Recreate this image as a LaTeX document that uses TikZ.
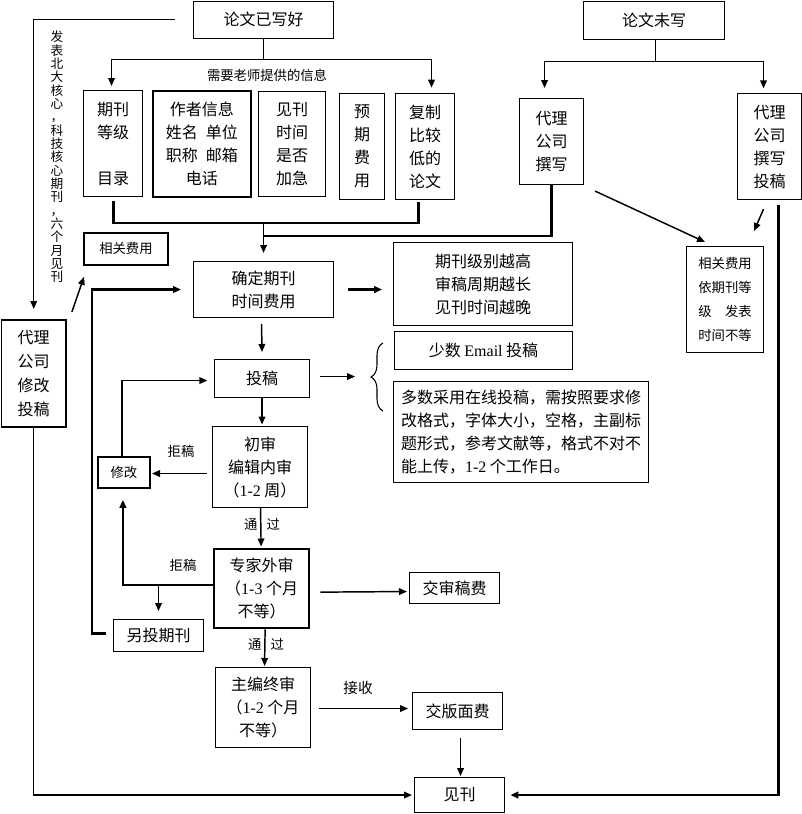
\documentclass[tikz,border=0pt]{standalone}
\usepackage{fontspec}
\setmainfont{Noto Sans CJK SC}
\newfontfamily\latfont{Liberation Serif}
\newcommand{\latn}[1]{{\latfont #1}}
\usetikzlibrary{arrows.meta,calc,decorations.pathreplacing}
\begin{document}
\begin{tikzpicture}[x=0.75pt,y=-0.75pt,
  sz/.style 2 args={minimum width=#1*0.75pt, minimum height=#2*0.75pt},
  box/.style={draw, line width=0.8pt, inner sep=0pt, anchor=north west, align=center,
              font=\fontsize{12}{17.25}\selectfont},
  sbox/.style={box, font=\fontsize{10}{18}\selectfont},
  thickbox/.style={line width=1.4pt},
  ln/.style={line width=1.1pt},
  thk/.style={line width=1.6pt},
  thn/.style={line width=0.8pt},
  tip/.style={-{Triangle[length=6pt,width=5pt]}},
  lbl/.style={inner sep=0pt, font=\fontsize{10}{12}\selectfont},
]
\useasboundingbox (0,0) rectangle (802,814);

% ---------- nodes ----------
\node[box, sz={140}{37}] (A) at (193,0.6) {论文已写好};
\node[box, sz={141}{38}] (B) at (583,0.6) {论文未写};

\node[box, sz={59}{106}] (C1) at (83,90) {期刊\\等级\\[17.25pt]目录};
\node[box, thickbox, sz={98}{106}] (C2) at (152,90) {作者信息\\姓名\hspace{0.5em}单位\\职称\hspace{0.5em}邮箱\\电话};
\node[box, sz={67}{105}] (C3) at (258,91) {见刊\\时间\\是否\\加急};
\node[box, sz={45}{106}] (C4) at (339,93) {预\\期\\费\\用};
\node[box, sz={59}{106}] (C5) at (395,93) {复制\\比较\\低的\\论文};

\node[box, sz={64}{86}] (D1) at (519,98) {代理\\公司\\撰写};
\node[box, sz={64}{106}] (D2) at (737,93) {代理\\公司\\撰写\\投稿};

\node[sbox, sz={77}{106}] (E) at (686,246) {相关费用\\依期刊等\\级\hspace{1em}发表\\时间不等};
\node[sbox, thickbox, sz={84}{32}] (F) at (83,232) {相关费用};
\node[box, thickbox, sz={64.4}{107}, font=\fontsize{12}{18}\selectfont] (G) at (0.6,319) {代理\\公司\\修改\\投稿};

\node[box, sz={140}{56}] (H) at (193,261) {确定期刊\\时间费用};
\node[box, sz={179}{83}] (I) at (393,242) {期刊级别越高\\审稿周期越长\\见刊时间越晚};
\node[box, sz={178}{38}] (J) at (394,331) {少数 \latn{Email} 投稿};
\node[box, sz={255}{101}, align=left] (K) at (393,381) {多数采用在线投稿，需按照要求修\\改格式，字体大小，空格，主副标\\题形式，参考文献等，格式不对不\\能上传，\latn{1-2} 个工作日。};

\node[box, sz={95}{38}] (L) at (214,359) {投稿};
\node[box, sz={95}{81}] (M) at (212,426) {初审\\编辑内审\\（\latn{1-2} 周）};
\node[sbox, thickbox, sz={52}{31}] (N) at (97,456) {修改};
\node[box, sz={95}{79}, line width=1.7pt] (O) at (213,548) {专家外审\\（\latn{1-3} 个月\\不等）};
\node[box, sz={90}{32}] (P) at (113,619) {另投期刊};
\node[box, sz={90}{31}] (Q) at (409,572) {交审稿费};
\node[box, sz={95}{80}] (R) at (215,667) {主编终审\\（\latn{1-2} 个月\\不等）};
\node[box, sz={90}{37}] (S) at (412,692) {交版面费};
\node[box, sz={90}{35}] (T) at (414,777) {见刊};

% ---------- labels ----------
\node[lbl] (lab1) at (267,75) {需要老师提供的信息};
\node[lbl] (lab2) at (181,451) {拒稿};
\node[lbl] (lab3) at (183,565) {拒稿};
\node[lbl] (lab4) at (262,524) {通\hspace{0.7em}过};
\node[lbl] (lab5) at (266,644) {通\hspace{0.7em}过};
\node[lbl, font=\fontsize{11}{12}\selectfont] (lab6) at (358,688) {接收};
\node[inner sep=0pt, align=center, font=\fontsize{9.5}{10}\selectfont] (vt) at (57,157)
  {发\\表\\北\\大\\核\\心\\，\\科\\技\\核\\心\\期\\刊\\，\\六\\个\\月\\见\\刊};

% ---------- connectors: top left ----------
\coordinate (jA) at ($(A.south)+(0,21)$);
\draw[ln] (A.south) -- (jA);
\draw[ln,tip,shorten >=3pt] (jA) -| ($(C1.north)+(-1.5,0)$);
\draw[ln,tip,shorten >=4pt] (jA) -| ($(C5.north)+(6.5,0)$);

\draw[thk] ($(C1.south)+(0.5,4)$) |- ($(C5.south)+(-6.5,23)$) -- ($(C5.south)+(-6.5,2)$);
\draw[ln,tip,shorten >=6pt] (H.north |- 0,222) -- (H.north);
\draw[thk] (D1.south) |- (H.north |- 0,236);

% ---------- connectors: top right ----------
\coordinate (jB) at ($(B.south)+(1.5,22)$);
\draw[ln] ($(B.south)+(1.5,0)$) -- (jB);
\draw[ln,tip,shorten >=7.5pt] (jB) -| ($(D1.north)+(-7,0)$);
\draw[ln,tip,shorten >=3.5pt] (jB) -| ($(D2.north)+(-6,0)$);

\draw[ln,tip] ($(D1.south east)+(11,6)$) -- ($(E.north west)+(19,-4)$);
\draw[ln,tip] ($(D2.south)+(-6,9)$) -- ($(E.north east)+(-10,-15)$);
\draw[thk,tip,shorten >=4pt] ($(D2.south)+(9,5)$) |- (T.east);

% ---------- connectors: left ----------
\draw[thn,tip,shorten >=7.5pt] ($(A.west)+(-18,0)$) -| (G.north);
\draw[ln,tip] ($(G.north east)+(5,-7)$) -- ($(F.south west)+(1,11)$);
\draw[ln,tip,shorten >=1.5pt] (G.south) |- (T.west);

% ---------- connectors: main flow ----------
\draw[thk,tip] ($(H.east)+(14,0)$) -- ($(H.east)+(48,0)$);
\draw[thk,tip] ($(P.west)+(-7,-2)$) -| ($(H.west)+(-101,0)$) -- ($(H.west)+(-12,0)$);
\draw[ln,tip] ($(H.south)+(-2,6)$) -- ($(L.north)+(0,-7)$);
\draw[ln,tip] ($(L.east)+(10,-2)$) -- ($(L.east)+(45,-2)$);
\draw[thn, decorate, decoration={brace, amplitude=9pt}] (383,411) -- (383,343);

\draw[ln,tip] (L.south) -- ($(M.north)+(2,-1.5)$);
\draw[ln,tip] ($(M.west)+(-5,6.5)$) -- ($(M.west)+(-60,6.5)$);
\draw[ln,tip,shorten >=5pt] ($(N.north)+(-2,0)$) |- ($(L.west)+(0,2)$);

\draw[ln,tip] ($(M.south)+(0.5,0)$) -- ($(O.north)+(-0.5,-1.5)$);
\coordinate (oj) at ($(O.west)+(0,-3.5)$);
\draw[thk,tip] (oj) -| ($(N.south)+(-1,11)$);
\draw[ln,tip,shorten >=6pt] (oj -| P.north) -- (P.north);
\draw[ln,tip] ($(O.east)+(10,3.5)$) -- ($(Q.west)+(-2,3.5)$);
\draw[ln,tip] ($(O.south)+(3.5,0)$) -- ($(R.north)+(1.5,-1)$);
\draw[ln,tip] ($(R.east)+(8,1)$) -- ($(R.east)+(97,1)$);
\draw[ln,tip] ($(S.south)+(3,8)$) -- ($(T.north)+(1,-1)$);
\end{tikzpicture}
\end{document}
